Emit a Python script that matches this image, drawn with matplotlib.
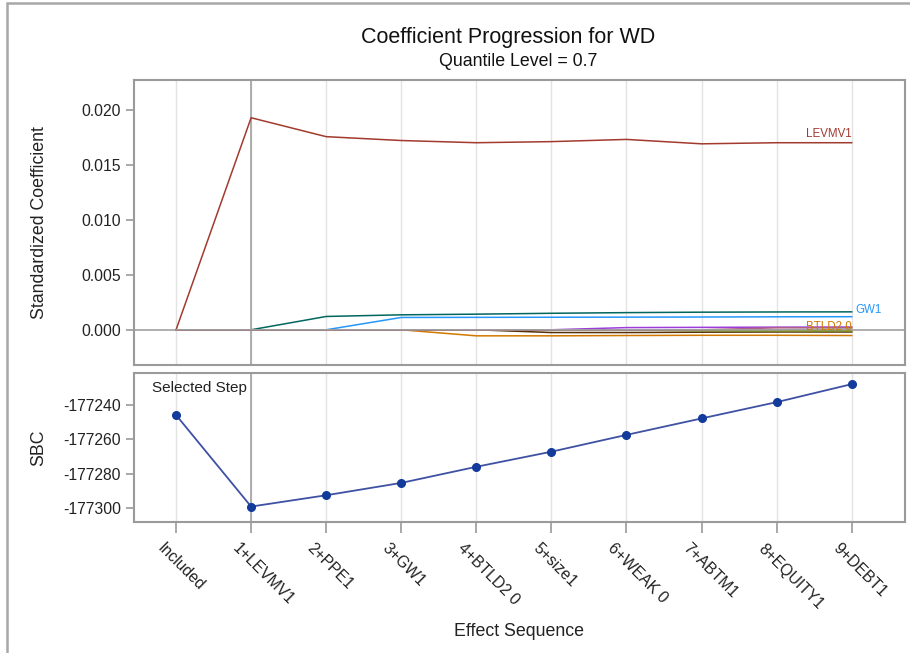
import numpy as np
import matplotlib
matplotlib.use("Agg")
import matplotlib.pyplot as plt
from matplotlib.patches import Rectangle
from matplotlib.transforms import ScaledTranslation

plt.rcParams['font.family'] = ['Liberation Sans', 'DejaVu Sans']
plt.rcParams['axes.unicode_minus'] = False

# ---------------- data ----------------
steps = ["Included", "1+LEVMV1", "2+PPE1", "3+GW1", "4+BTLD2 0", "5+size1",
         "6+WEAK 0", "7+ABTM1", "8+EQUITY1", "9+DEBT1"]

levmv1 = [0, 0.01927, 0.01755, 0.0172, 0.0170, 0.0171, 0.0173, 0.0169, 0.0170, 0.0170]
ppe1   = [0, 0, 0.00121, 0.00136, 0.00142, 0.00150, 0.00156, 0.00160, 0.00162, 0.00163]
gw1    = [0, 0, 0, 0.00112, 0.00113, 0.00114, 0.00115, 0.00116, 0.00118, 0.00119]
btld2  = [0, 0, 0, 0, -0.00055, -0.00055, -0.00052, -0.00050, -0.00050, -0.00052]
size1  = [0, 0, 0, 0, 0, -0.00025, -0.00025, -0.00022, -0.00020, -0.00020]
weak0  = [0, 0, 0, 0, 0, 0, 0.00020, 0.00022, 0.00024, 0.00025]
abtm1  = [0, 0, 0, 0, 0, 0, 0, -0.00010, -0.00012, -0.00012]
equity1 = [0, 0, 0, 0, 0, 0, 0, 0, 0.00018, 0.00018]
debt1  = [0, 0, 0, 0, 0, 0, 0, 0, 0, 0.00008]

sbc = [-177245.8, -177299.2, -177292.6, -177285.4, -177276.0, -177267.2,
       -177257.4, -177247.8, -177238.3, -177227.8]

coef_series = [
    ("LEVMV1", levmv1, "#A23A2E"),
    ("PPE1", ppe1, "#01665E"),
    ("GW1", gw1, "#2597FA"),
    ("BTLD2 0", btld2, "#D17800"),
    ("size1", size1, "#543005"),
    ("WEAK 0", weak0, "#9D3CDB"),
    ("ABTM1", abtm1, "#7F8E1F"),
    ("EQUITY1", equity1, "#B26084"),
    ("DEBT1", debt1, "#A0A0A0"),
]

x = np.arange(len(steps))
selected = 1

# ---------------- figure ----------------
fig = plt.figure(figsize=(9.1, 6.53), dpi=100)
W, H = 910, 653

def px_ax(l, t, r, b):
    return [l / W, 1 - b / H, (r - l) / W, (b - t) / H]

ax1 = fig.add_axes(px_ax(134, 80, 905, 365))
ax2 = fig.add_axes(px_ax(134, 373, 905, 522))

spine_c = "#9A9A9A"
grid_c = "#E3E3E3"
text_c = "#222222"

for ax in (ax1, ax2):
    for s in ax.spines.values():
        s.set_color(spine_c)
        s.set_linewidth(1.5)
    ax.set_xlim(-0.56, 9.71)
    ax.set_xticks(x)
    for xi in x:
        ax.axvline(xi, color=grid_c, lw=1.0, zorder=0)
    ax.axvline(selected, color="#A8A8A8", lw=1.3, zorder=1)
    ax.tick_params(axis='both', colors=spine_c, labelcolor=text_c,
                   labelsize=11.3, width=1.2)
    ax.tick_params(axis='y', length=6)

# top panel
ax1.axhline(0, color="#A8A8A8", lw=1.3, zorder=1)
for name, vals, col in coef_series:
    ax1.plot(x, vals, color=col, lw=1.1, zorder=3)
ax1.set_ylim(-0.0032, 0.0227)
ax1.set_yticks([0.0, 0.005, 0.010, 0.015, 0.020])
ax1.set_yticklabels(["0.000", "0.005", "0.010", "0.015", "0.020"])
ax1.tick_params(axis='x', length=0, labelbottom=False)
ax1.set_ylabel("Standardized Coefficient", fontsize=12.8, color=text_c)
ax1.yaxis.set_label_coords(-0.112, 0.5)

# series labels at the line ends
ax1.annotate("LEVMV1", (x[-1], levmv1[-1]), xytext=(0, 2), textcoords='offset points',
             ha='right', va='bottom', fontsize=8.3, color="#A23A2E")
ax1.annotate("GW1", (x[-1], gw1[-1]), xytext=(3, 5), textcoords='offset points',
             ha='left', va='center', fontsize=8.3, color="#2597FA")
ax1.annotate("BTLD2 0", (x[-1], btld2[-1]), xytext=(0, 2), textcoords='offset points',
             ha='right', va='bottom', fontsize=8.3, color="#D17800")

# bottom panel
ax2.plot(x, sbc, color="#3F51A3", lw=1.3, marker='o', markersize=5.5,
         markerfacecolor="#123B9C", markeredgecolor="#123B9C", zorder=3)
ax2.set_ylim(-177308.2, -177221.3)
ax2.set_yticks([-177300, -177280, -177260, -177240])
ax2.set_ylabel("SBC", fontsize=12.8, color=text_c)
ax2.yaxis.set_label_coords(-0.112, 0.5)
ax2.tick_params(axis='x', length=8)
ax2.set_xticklabels(steps, rotation=-45, ha='left', va='top',
                    rotation_mode='anchor', fontsize=11.3)
for lab in ax2.get_xticklabels():
    lab.set_transform(lab.get_transform() + ScaledTranslation(-11 / 100, -3 / 100, fig.dpi_scale_trans))
ax2.set_xlabel("Effect Sequence", fontsize=12.8, color=text_c)
ax2.xaxis.set_label_coords(0.5, -0.68)
ax2.annotate("Selected Step", (selected, 1), xycoords=('data', 'axes fraction'),
             xytext=(-3, -6), textcoords='offset points', ha='right', va='top',
             fontsize=11, color=text_c)

# titles
fig.text(508 / W, 1 - 38 / H, "Coefficient Progression for WD", ha='center',
         va='center', fontsize=15.5, color="#111111")
fig.text(518 / W, 1 - 61 / H, "Quantile Level = 0.7", ha='center',
         va='center', fontsize=12.8, color="#111111")

# outer frame
fig.patches.append(Rectangle((7 / W, -0.05), 1.2, 1 - 3 / H + 0.05,
                             transform=fig.transFigure, fill=False,
                             edgecolor="#A8A8A8", lw=1.8))

fig.savefig("out.png", dpi=100)
